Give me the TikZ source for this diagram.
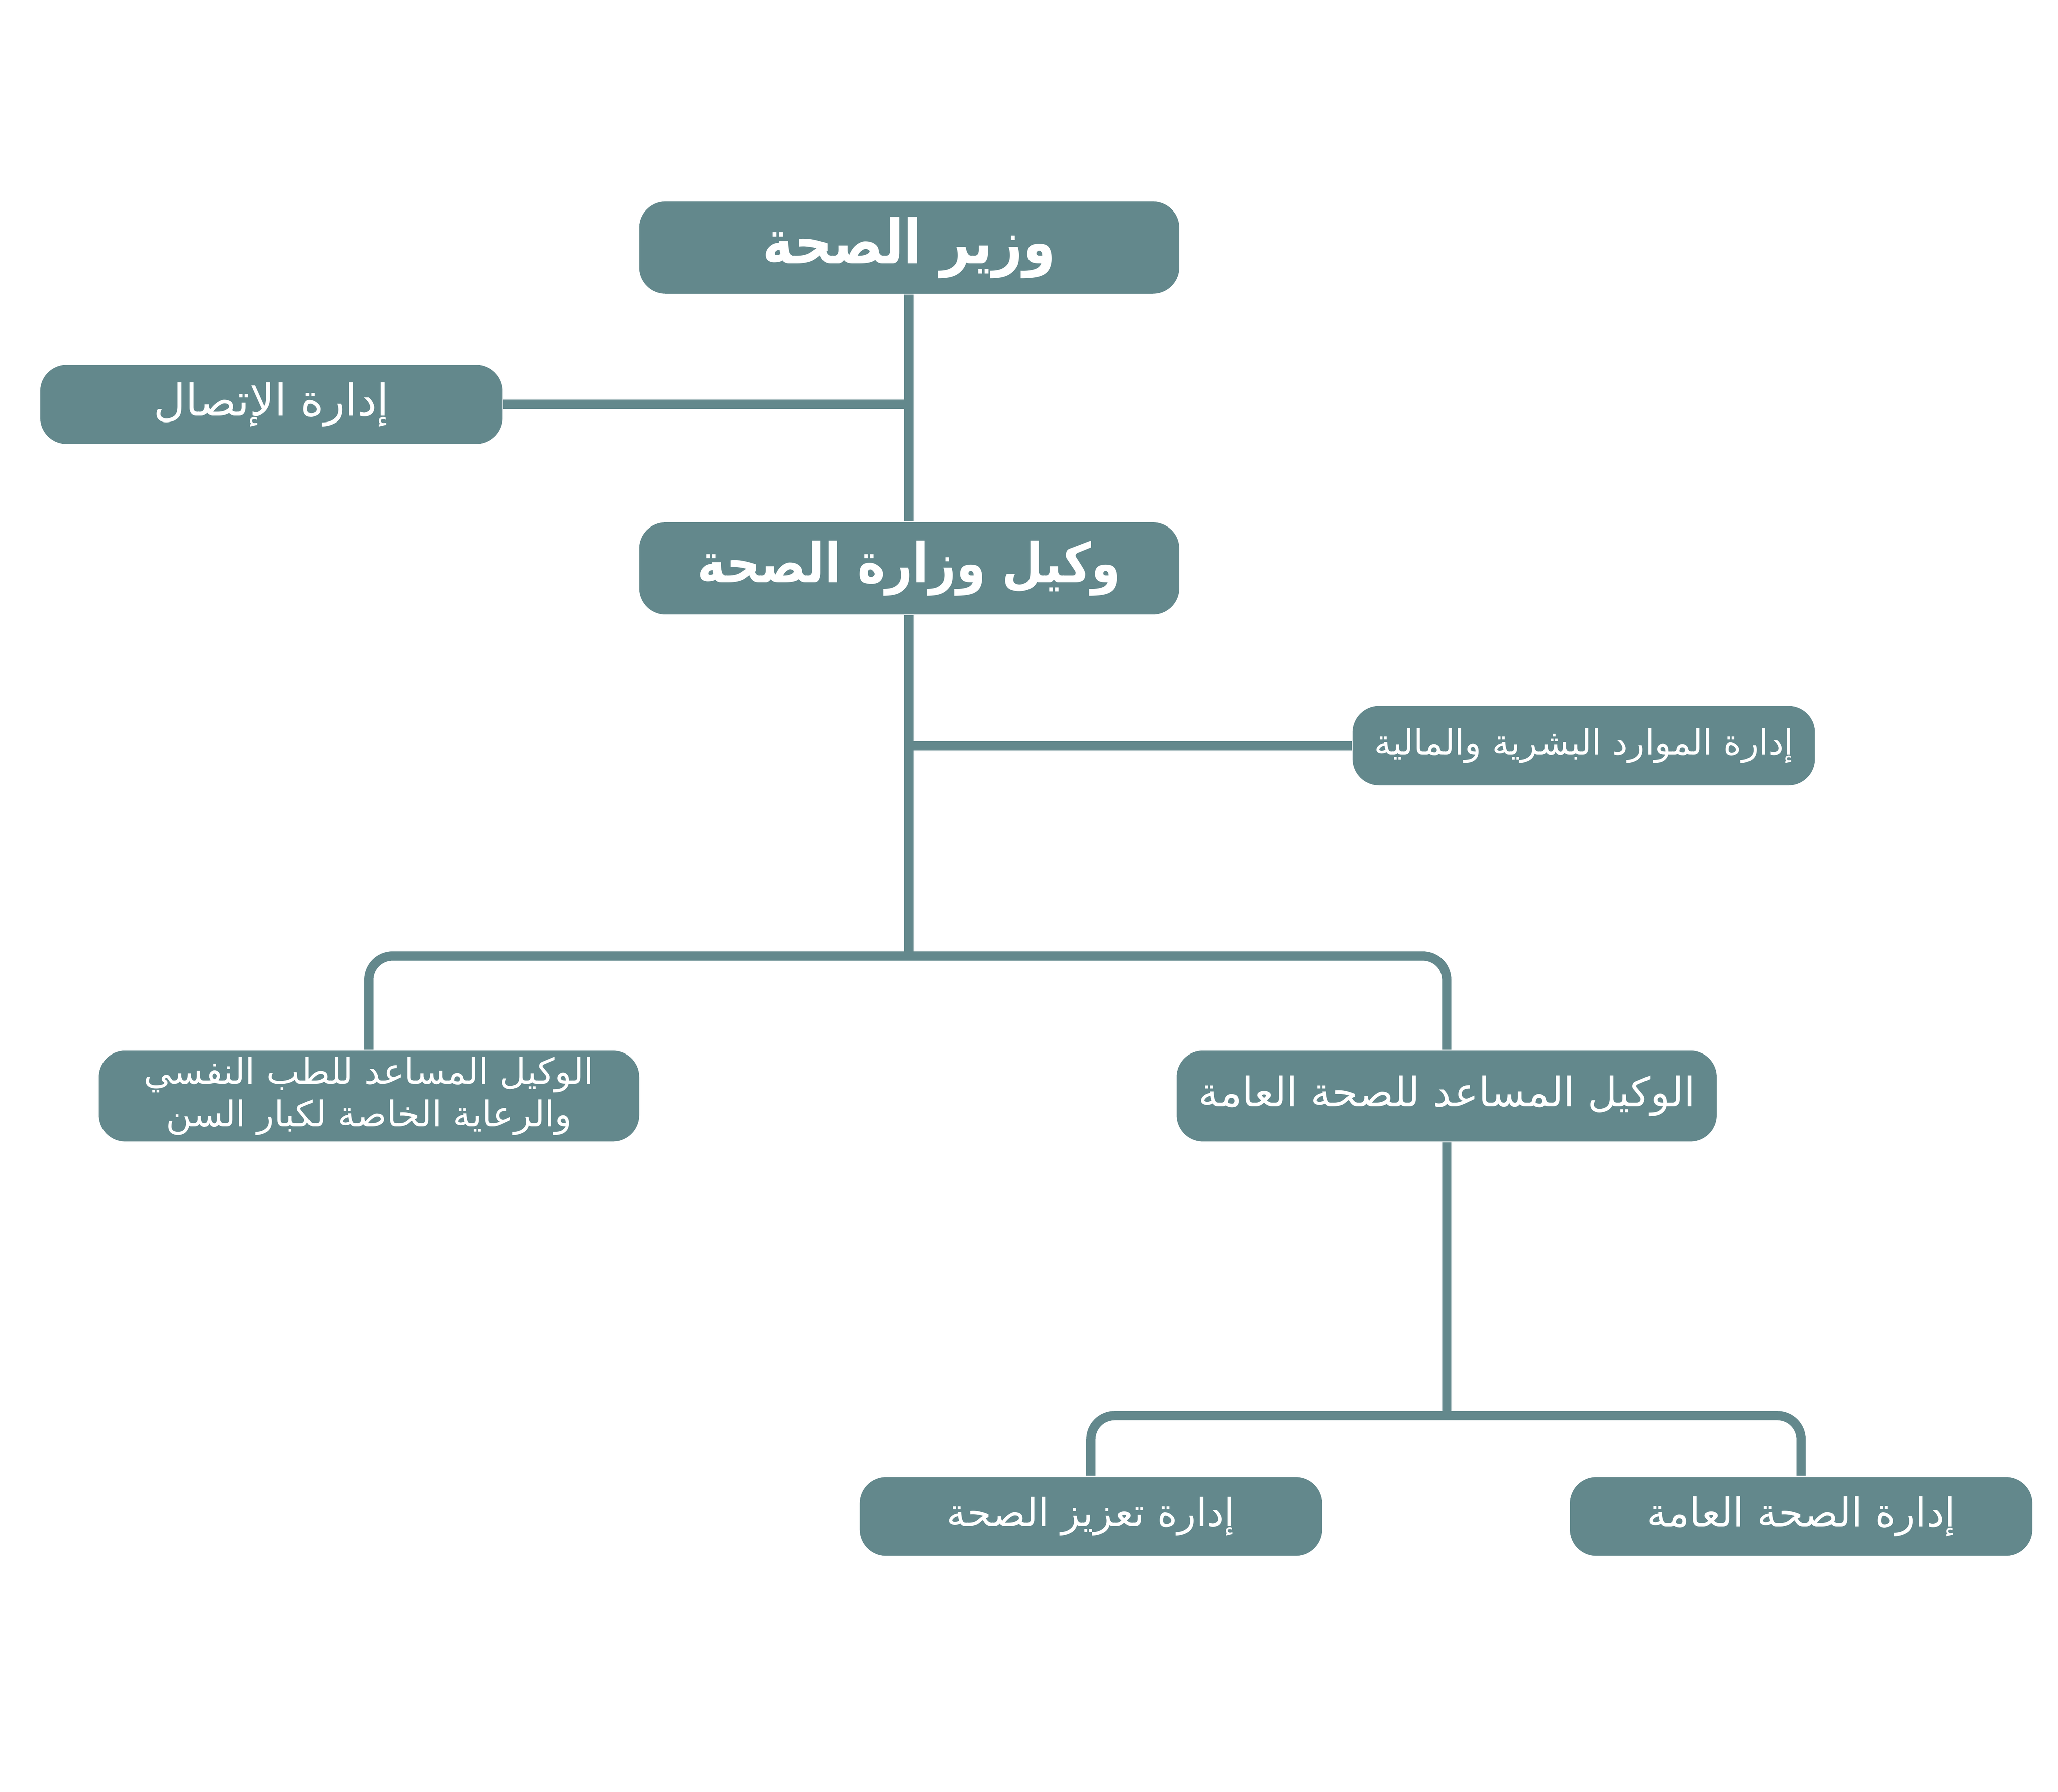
\documentclass[tikz,border=0pt]{standalone}
\usepackage{fontspec}
\usepackage{tikz}
\TeXXeTstate=1
\newfontfamily\arabicfont[Script=Arabic]{DejaVu Sans}
\newfontfamily\arabicbold[Script=Arabic,FakeStretch=0.86]{DejaVu Sans Bold}
\definecolor{org_teal}{RGB}{99, 136, 140}
\tikzstyle{chief}=[rectangle,rounded corners=0.2cm,fill=org_teal,text=white,
  inner sep=0pt,minimum width=4.1cm,minimum height=0.7cm,
  font=\arabicbold\fontsize{13.2}{15}\selectfont]
\tikzstyle{deputy}=[rectangle,rounded corners=0.2cm,fill=org_teal,text=white,
  inner sep=0pt,minimum width=4.1cm,minimum height=0.69cm,align=center,
  font=\arabicfont\fontsize{8.8}{10}\selectfont]
\tikzstyle{unit}=[rectangle,rounded corners=0.2cm,fill=org_teal,text=white,
  inner sep=0pt,minimum width=3.51cm,minimum height=0.6cm,
  font=\arabicfont\fontsize{8.5}{10}\selectfont]
\tikzstyle{wire}=[draw=org_teal,line width=2pt]
\tikzstyle{none}=[inner sep=0pt,minimum size=0pt]

\begin{document}
\begin{tikzpicture}
            \useasboundingbox (0, 0) rectangle (15.62, 13.6);
            \node [style=chief] (0) at (6.9, 11.72) {\beginR وزير الصحة\endR};
            \node [style=unit, font=\arabicfont\fontsize{9.5}{11}\selectfont] (1) at (2.06, 10.53) {\beginR إدارة الإتصال\endR};
            \node [style=chief, font=\arabicbold\fontsize{11.9}{14}\selectfont] (2) at (6.9, 9.285) {\beginR وكيل وزارة الصحة\endR};
            \node [style=unit, font=\arabicfont\fontsize{7.5}{9}\selectfont] (3) at (12.02, 7.94) {\beginR إدارة الموارد البشرية والمالية\endR};
            \node [style=deputy, font=\arabicfont\fontsize{7.7}{9.2}\selectfont] (4) at (2.8, 5.28) {\beginR الوكيل المساعد للطب النفسي\endR\\\beginR والرعاية الخاصة لكبار السن\endR};
            \node [style=deputy] (5) at (10.98, 5.28) {\beginR الوكيل المساعد للصحة العامة\endR};
            \node [style=unit, font=\arabicfont\fontsize{8.4}{10}\selectfont] (6) at (8.28, 2.09) {\beginR إدارة تعزيز الصحة\endR};
            \node [style=unit, font=\arabicfont\fontsize{8.65}{10}\selectfont] (7) at (13.67, 2.09) {\beginR إدارة الصحة العامة\endR};
            \node [style=none] (8) at (6.9, 10.53) {};
            \node [style=none] (9) at (6.9, 7.94) {};
            \node [style=none] (10) at (6.9, 6.345) {};
            \node [style=none] (11) at (10.98, 2.855) {};
            \draw [style=wire] (0) to (2);
            \draw [style=wire] (8.center) to (1);
            \draw [style=wire] (2) to (10.center);
            \draw [style=wire] (9.center) to (3);
            \draw [style=wire, rounded corners=0.18cm] (4) |- (10.center) -| (5);
            \draw [style=wire] (5) to (11.center);
            \draw [style=wire, rounded corners=0.18cm] (6) |- (11.center) -| (7);
    \end{tikzpicture}
\end{document}
